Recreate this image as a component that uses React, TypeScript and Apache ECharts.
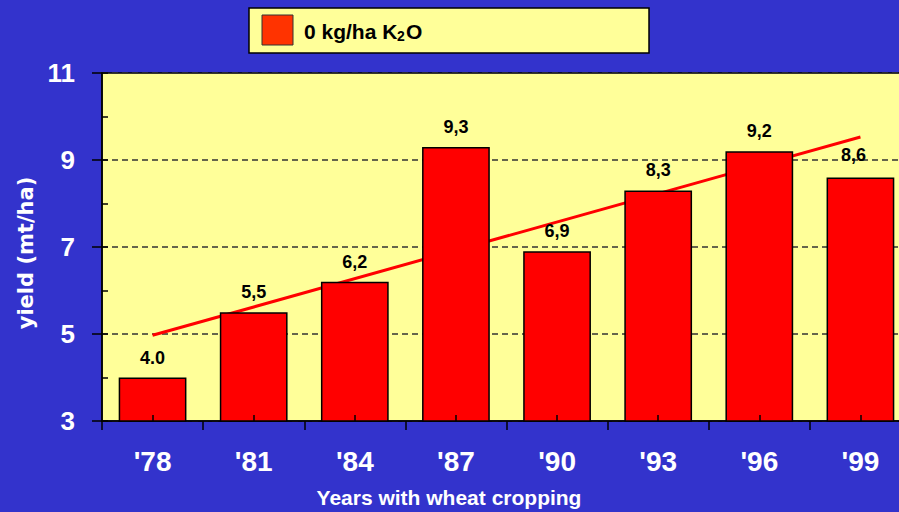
import React, { useEffect, useRef } from "react";
import * as echarts from "echarts";

const categories = ["'78", "'81", "'84", "'87", "'90", "'93", "'96", "'99"];
const yields = [4.0, 5.5, 6.2, 9.3, 6.9, 8.3, 9.2, 8.6];
const yieldLabels = ["4.0", "5,5", "6,2", "9,3", "6,9", "8,3", "9,2", "8,6"];
const trendLine = [4.97, null, null, null, null, null, null, 9.53];
const yMin = 3;
const yMax = 11;
const yMajorStep = 2;
const yMinorStep = 1;
const legendName = "0 kg/ha K";
const legendSub = "2";
const legendTail = "O";
const xTitle = "Years with wheat cropping";
const yTitle = "yield (mt/ha)";

const FONT = "'Liberation Sans', Arial, Helvetica, sans-serif";

export default function App() {
  const ref = useRef<HTMLDivElement>(null);

  useEffect(() => {
    if (!ref.current) return;
    const chart = echarts.init(ref.current, undefined, { renderer: "svg" });

    const barData = yields.map((v, i) => {
      const item: any = { value: v };
      if (i === yields.length - 1) item.label = { offset: [-7, -2] };
      return item;
    });

    const legendText = (text: string, x: number, y: number, size: number) => ({
      type: "text",
      x,
      y,
      z: 11,
      style: {
        text,
        fill: "#000",
        fontSize: size,
        fontWeight: "bold",
        fontFamily: FONT,
        align: "left",
        verticalAlign: "middle",
      },
    });

    chart.setOption({
      animation: false,
      backgroundColor: "#3333CC",
      textStyle: { fontFamily: FONT },
      grid: {
        left: 102,
        top: 73,
        width: 809,
        height: 348,
        show: true,
        backgroundColor: "#FFFF99",
        borderColor: "#000",
        borderWidth: 1.5,
        containLabel: false,
      },
      xAxis: [
        {
          type: "category",
          data: categories,
          position: "bottom",
          axisLine: { show: true, lineStyle: { color: "#000", width: 1.5 } },
          axisTick: { show: true, inside: false, length: 9, lineStyle: { color: "#000", width: 1.5 } },
          axisLabel: {
            color: "#fff",
            fontWeight: "bold",
            fontSize: 28,
            fontFamily: FONT,
            margin: 26,
          },
          splitLine: { show: false },
        },
        {
          type: "category",
          data: categories,
          position: "bottom",
          z: 5,
          axisLine: { show: false },
          axisTick: { show: true, inside: true, alignWithLabel: true, length: 6, lineStyle: { color: "#000", width: 1.5 } },
          axisLabel: { show: false },
          splitLine: { show: false },
        },
      ],
      yAxis: [
        {
          type: "value",
          min: yMin,
          max: yMax,
          interval: yMajorStep,
          position: "left",
          axisLine: { show: true, lineStyle: { color: "#000", width: 1.5 } },
          axisTick: { show: true, inside: false, length: 10, lineStyle: { color: "#000", width: 1.5 } },
          axisLabel: {
            color: "#fff",
            fontWeight: "bold",
            fontSize: 26,
            fontFamily: FONT,
            margin: 27,
          },
          splitLine: { show: true, lineStyle: { color: "#333", width: 1.5, type: [6, 4] } },
        },
        {
          type: "value",
          min: yMin,
          max: yMax,
          interval: yMinorStep,
          position: "left",
          axisLine: { show: false },
          axisTick: { show: true, inside: true, length: 6, lineStyle: { color: "#000", width: 1.5 } },
          axisLabel: { show: false },
          splitLine: { show: false },
        },
      ],
      series: [
        {
          type: "line",
          data: trendLine,
          xAxisIndex: 0,
          yAxisIndex: 0,
          connectNulls: true,
          showSymbol: false,
          symbol: "none",
          z: 1,
          lineStyle: { color: "#FF0000", width: 3 },
        },
        {
          type: "bar",
          data: barData,
          xAxisIndex: 0,
          yAxisIndex: 0,
          barWidth: "67%",
          z: 2,
          itemStyle: { color: "#FF0000", borderColor: "#000", borderWidth: 1.5 },
          label: {
            show: true,
            position: "top",
            distance: 11,
            color: "#000",
            fontWeight: "bold",
            fontSize: 18,
            fontFamily: FONT,
            formatter: (p: any) => yieldLabels[p.dataIndex],
          },
        },
      ],
      graphic: [
        {
          type: "rect",
          shape: { x: 249, y: 8, width: 400, height: 45 },
          style: { fill: "#FFFF99", stroke: "#000", lineWidth: 1.5 },
          z: 10,
        },
        {
          type: "rect",
          shape: { x: 262, y: 15, width: 31, height: 30 },
          style: { fill: "#FF3300", stroke: "#333", lineWidth: 1 },
          z: 11,
        },
        legendText(legendName, 304, 31, 21),
        legendText(legendSub, 397, 36, 14),
        legendText(legendTail, 406, 31, 21),
        {
          type: "text",
          x: 449,
          y: 497,
          style: {
            text: xTitle,
            fill: "#fff",
            fontSize: 21,
            fontWeight: "bold",
            fontFamily: FONT,
            align: "center",
            verticalAlign: "middle",
          },
        },
        {
          type: "text",
          x: 26,
          y: 253,
          rotation: Math.PI / 2,
          style: {
            text: yTitle,
            fill: "#fff",
            fontSize: 21,
            fontWeight: "bold",
            fontFamily: "'DejaVu Sans', Verdana, sans-serif",
            align: "center",
            verticalAlign: "middle",
          },
        },
      ],
    });

    return () => chart.dispose();
  }, []);

  return (
    <div
      style={{ position: "absolute", left: 0, top: 0, width: 899, height: 512, overflow: "hidden" }}
    >
      <div ref={ref} style={{ width: 920, height: 512 }} />
    </div>
  );
}
